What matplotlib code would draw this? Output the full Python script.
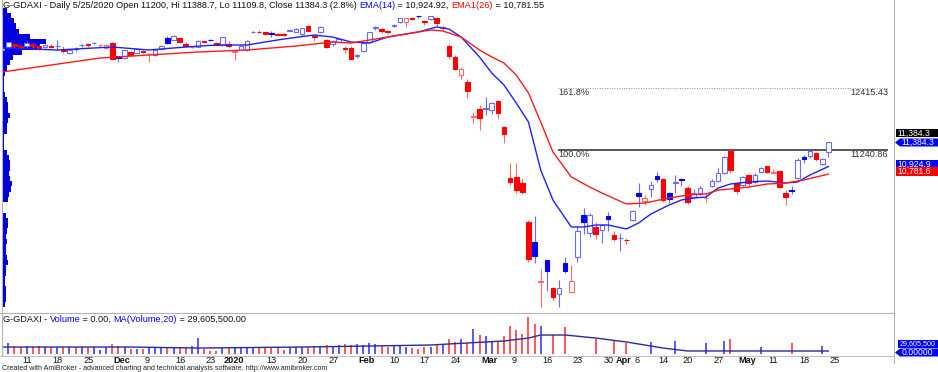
import numpy as np
import pandas as pd
import matplotlib
matplotlib.use("Agg")
import matplotlib.pyplot as plt
from matplotlib.patches import Polygon
from matplotlib.lines import Line2D

FONT = "Liberation Sans"
W, H = 938, 372

# XETRA trading days, Nov 6 2019 .. May 25 2020
holidays = ["2019-12-24", "2019-12-25", "2019-12-26", "2019-12-31", "2020-01-01",
            "2020-04-10", "2020-04-13", "2020-05-01"]
dates = pd.bdate_range("2019-11-06", "2020-05-25")
dates = dates[~dates.isin(pd.to_datetime(holidays))]

opens = [13150, 13210, 13250, 13215, 13215, 13255, 13215, 13200, 13230, 13215,
         13140, 13080, 13170, 13240, 13260, 13280, 13235, 13185, 13278, 13030,
         12995, 13107, 13090, 13126, 13065, 13050, 13170, 13373, 13335, 13373,
         13259, 13200, 13202, 13315, 13340, 13278, 13240, 13250, 13107, 13150,
         13145, 13480, 13490, 13485, 13470, 13445, 13440, 13515, 13490, 13440,
         13600, 13410, 13490, 13335, 13260, 13300, 13185, 13185, 13040, 13120,
         13300, 13560, 13540, 13500, 13600, 13680, 13680, 13750, 13790, 13700,
         13730, 13754, 13560, 13221, 13010, 12670, 12535, 11870, 12020, 12030,
         12002, 12174, 11680, 10700, 10727, 10610, 9870, 9490, 8730, 9146,
         8610, 8499, 9089, 8537, 9200, 10000, 9660, 9780, 9718, 9985,
         9620, 9560, 9535, 9910, 10420, 10270, 10490, 10755, 10690, 10420,
         10610, 10690, 10520, 10340, 10420, 10320, 10560, 10650, 10800, 11220,
         10620, 10570, 10760, 10640, 10830, 10930, 10810, 10840, 10420, 10475,
         10700, 11100, 11130, 11180, 10980, 11200]
highs = [13205, 13300, 13265, 13240, 13310, 13270, 13240, 13250, 13250, 13330,
         13230, 13150, 13200, 13260, 13270, 13300, 13260, 13250, 13300, 13040,
         13150, 13130, 13180, 13150, 13090, 13160, 13240, 13410, 13425, 13390,
         13290, 13230, 13330, 13330, 13360, 13300, 13400, 13320, 13140, 13240,
         13330, 13510, 13525, 13495, 13500, 13470, 13460, 13550, 13560, 13570,
         13620, 13440, 13600, 13350, 13340, 13360, 13230, 13230, 13070, 13300,
         13490, 13600, 13560, 13520, 13640, 13760, 13760, 13770, 13800, 13720,
         13796, 13780, 13600, 13250, 13050, 12830, 12600, 11970, 12100, 12250,
         12160, 12200, 11690, 10990, 11000, 10700, 9900, 9980, 8975, 9150,
         8640, 8760, 9200, 9060, 9790, 10130, 10040, 9870, 9830, 10060,
         9700, 9660, 9560, 10100, 10610, 10380, 10660, 10820, 10700, 10450,
         10770, 10700, 10560, 10500, 10560, 10400, 10680, 10900, 11120, 11241,
         10640, 10750, 10780, 10800, 10920, 10940, 10880, 10850, 10470, 10560,
         11080, 11140, 11230, 11200, 11080, 11388.7]
lows = [13120, 13190, 13190, 13160, 13190, 13180, 13140, 13185, 13180, 13150,
        13090, 13060, 13120, 13200, 13210, 13250, 13210, 13170, 12950, 12920,
        12980, 13040, 13080, 13080, 12920, 13040, 13150, 13260, 13330, 13270,
        13210, 13180, 13195, 13290, 13320, 13240, 13230, 13180, 12950, 13140,
        13120, 13460, 13460, 13430, 13400, 13410, 13410, 13500, 13480, 13420,
        13500, 13320, 13470, 13190, 13230, 13290, 13090, 12970, 12990, 13100,
        13290, 13520, 13470, 13440, 13580, 13660, 13580, 13720, 13760, 13620,
        13720, 13600, 13520, 12980, 12760, 12600, 12230, 11760, 11630, 11900,
        11920, 11840, 11380, 10580, 10430, 10410, 9100, 9080, 8256, 8560,
        8380, 8260, 8900, 8520, 9100, 9640, 9580, 9540, 9470, 9700,
        9510, 9320, 9460, 9890, 10160, 10200, 10350, 10640, 10250, 10240,
        10420, 10560, 10220, 10330, 10380, 10250, 10540, 10630, 10780, 10800,
        10400, 10560, 10560, 10620, 10820, 10800, 10780, 10520, 10190, 10400,
        10690, 10990, 11090, 11030, 10960, 11109.8]
closes = [13180, 13289, 13229, 13198, 13284, 13230, 13180, 13242, 13207, 13221,
          13127, 13138, 13164, 13247, 13236, 13287, 13246, 13236, 12965, 12989,
          13141, 13055, 13167, 13106, 13071, 13141, 13222, 13283, 13408, 13288,
          13222, 13212, 13319, 13301, 13337, 13249, 13386, 13219, 13127, 13227,
          13320, 13495, 13483, 13452, 13456, 13432, 13429, 13526, 13549, 13556,
          13516, 13388, 13577, 13205, 13324, 13345, 13157, 12982, 13045, 13282,
          13479, 13575, 13514, 13494, 13628, 13750, 13745, 13744, 13784, 13681,
          13789, 13664, 13579, 13035, 12790, 12775, 12367, 11890, 11858, 12040,
          12128, 11945, 11542, 10625, 10475, 10439, 9161, 9232, 8742, 8939,
          8442, 8610, 8929, 8741, 9701, 9874, 10001, 9633, 9816, 9936,
          9545, 9571, 9526, 10075, 10357, 10333, 10565, 10697, 10280, 10302,
          10626, 10676, 10250, 10415, 10514, 10336, 10660, 10796, 11108, 10862,
          10467, 10729, 10606, 10759, 10904, 10825, 10820, 10542, 10337, 10465,
          11059, 11075, 11224, 11066, 11074, 11384.3]
# volume in millions
volume = [106, 112, 79, 73, 79, 73, 79, 73, 73, 73,
          73, 73, 73, 73, 66, 73, 40, 73, 96, 82,
          66, 50, 46, 46, 63, 73, 73, 73, 73, 73,
          73, 79, 162, 46, 30, 30, 63, 63, 73, 73,
          73, 73, 73, 73, 73, 73, 40, 66, 73, 66,
          73, 79, 79, 89, 73, 89, 96, 89, 96, 89,
          106, 99, 82, 73, 89, 82, 73, 56, 50, 73,
          73, 99, 89, 148, 116, 145, 110, 248, 188, 178,
          132, 132, 178, 280, 238, 198, 363, 297, 277, 0,
          188, 0, 270, 0, 0, 0, 0, 145, 0, 0,
          132, 0, 106, 0, 0, 0, 122, 0, 0, 0,
          132, 0, 0, 0, 0, 106, 0, 0, 132, 145,
          0, 0, 0, 0, 73, 0, 0, 0, 0, 106,
          0, 0, 0, 0, 79, 0]

# indicator lines (bar index, value)
ema14_bar = [0, 9, 18, 24, 30, 35, 40, 46, 51, 54, 57, 60, 63, 68, 71, 73, 75, 78, 80,
             82, 84, 86, 88, 90, 93, 95, 97, 99, 102, 104, 106, 109, 111, 113, 115,
             117, 119, 122, 125, 128, 130, 132, 135]
ema14_val = [13183, 13145, 13202, 13145, 13202, 13240, 13240, 13354, 13430, 13392,
             13297, 13278, 13392, 13488, 13583, 13545, 13392, 13012, 12707, 12478,
             12136, 11774, 10860, 10289, 9775, 9775, 9813, 9813, 9737, 9851,
             10022, 10194, 10289, 10327, 10346, 10517, 10593, 10632, 10651, 10613,
             10632, 10765, 10924.92]
ema26_bar = [0, 8, 16, 24, 32, 40, 48, 54, 57, 60, 65, 70, 72, 75, 78, 80, 82, 84, 86,
             88, 90, 93, 96, 98, 102, 105, 109, 112, 115, 117, 119, 122, 125, 128, 131, 135]
ema26_val = [12726, 12859, 12992, 13050, 13107, 13145, 13221, 13297, 13278, 13335,
             13430, 13526, 13507, 13392, 13145, 13012, 12897, 12669, 12326, 11774,
             11203, 10727, 10536, 10422, 10213, 10232, 10327, 10384, 10403, 10479,
             10498, 10536, 10593, 10613, 10670, 10781.55]
vma_bar = [0, 21, 32, 49, 60, 70, 76, 82, 86, 88, 92, 97, 102, 108, 112, 135]
vma_val = [69, 69, 59, 69, 79, 89, 109, 129, 158, 188, 188, 158, 119, 59, 30, 29.6]

# volume-at-price histogram (bin centre, relative size)
prof_price = list(range(8300, 14000, 100))
prof_size = [3, 4, 4, 4, 3, 3, 4, 4, 6, 5, 4, 4, 5, 4, 5, 6, 6, 4, 1, 1,
             6, 7, 9, 10, 8, 7, 8, 8, 7, 5, 2, 2, 2, 5, 5, 6, 8, 6, 6, 5,
             3, 2, 2, 2, 3, 5, 8, 11, 20, 38, 44, 28, 17, 14, 12, 9, 5]

fib_100, fib_1618 = 11240.86, 12415.43

ticks = [(3, "11", False), (8, "18", False), (13, "25", False), (18, "Dec", True),
         (23, "9", False), (28, "16", False), (33, "23", False), (36, "2020", True),
         (43, "13", False), (48, "20", False), (53, "27", False), (58, "Feb", True),
         (63, "10", False), (68, "17", False), (73, "24", False), (78, "Mar", True),
         (83, "9", False), (88, "16", False), (93, "23", False), (98, "30", False),
         (100, "Apr", True), (103, "6", False), (107, "14", False), (111, "20", False),
         (116, "27", False), (120, "May", True), (125, "11", False), (130, "18", False),
         (135, "25", False)]

BLUE, RED = "#0000ff", "#ff0000"
BLUE_L, RED_L = "#6a6aff", "#ff6a6a"
GRAY = "#b4b4b4"

# pixel layout
X0, DX = 2.14, 6.12          # pixel of bar 0, pixels per bar
P_REF, Y_REF, PPX = fib_100, 150.0, 19.04   # price scale
VPX = 9.9                    # million per pixel in volume pane


def fx(x):
    return x / W


def fy(y):
    return 1 - y / H


fig = plt.figure(figsize=(W / 100, H / 100), dpi=100)
ax = fig.add_axes([fx(2), fy(313), (894 - 2) / W, 313 / H])
axv = fig.add_axes([fx(2), fy(355), (894 - 2) / W, (355 - 313) / H])
xl = ((2 - X0) / DX, (894 - X0) / DX)
ax.set_xlim(*xl)
ax.set_ylim(P_REF - (313 - Y_REF) * PPX, P_REF + Y_REF * PPX)
axv.set_xlim(*xl)
axv.set_ylim(-VPX, (354 - 313) * VPX)
ax.set_axis_off()
axv.set_axis_off()

o, hi, lo, c = map(np.array, (opens, highs, lows, closes))
x = np.arange(len(c))
prev = np.r_[c[0], c[:-1]]
up = c >= prev
hollow = c > o

# volume at price
ax.barh(prof_price, np.array(prof_size) / DX, height=100, left=xl[0],
        color="#0000e0", lw=0, zorder=1)

# candles
wick = [BLUE_L if u else RED_L for u in up]
ax.vlines(x, lo, hi, colors=wick, lw=0.8, zorder=3)
face = ["white" if hw else (BLUE if u else RED) for hw, u in zip(hollow, up)]
edge = [(BLUE_L if u else RED_L) if hw else (BLUE if u else RED) for hw, u in zip(hollow, up)]
ax.bar(x, np.maximum(np.abs(c - o), 6), bottom=np.minimum(o, c), width=0.75,
       color=face, edgecolor=edge, lw=0.8, zorder=4)

ax.plot(ema14_bar, ema14_val, color="#2020ff", lw=1.0, zorder=5)
ax.plot(ema26_bar, ema26_val, color="#ff1a1a", lw=1.0, zorder=5)

# fibonacci levels
fib_x0, fib_x1 = (558 - X0) / DX, (888 - X0) / DX
ax.hlines(fib_100, fib_x0, fib_x1, color="#555555", lw=1.4, zorder=2)
ax.hlines(fib_1618, fib_x0, fib_x1, color="#909090", lw=0.7, ls=(0, (1, 1.5)), zorder=2)
for lvl, name in [(fib_100, "100.0%"), (fib_1618, "161.8%")]:
    ypx = Y_REF - (lvl - P_REF) / PPX
    fig.text(fx(558), fy(ypx + 4.5), name, fontsize=6.6, family=FONT, color="#333333",
             va="center", ha="left")
    fig.text(fx(888), fy(ypx + 4.5), f"{lvl:.2f}", fontsize=6.6, family=FONT,
             color="#333333", va="center", ha="right")

# volume pane
vcol = ["#4a4aff" if hw else "#ff4a4a" for hw in hollow]
axv.vlines(x, 0, volume, colors=vcol, lw=1.3, zorder=3)
axv.plot(vma_bar, vma_val, color="#2a2a9c", lw=1.0, zorder=4)

# frames
fig.add_artist(Line2D([fx(1.5), fx(1.5)], [fy(0), fy(356)], color=GRAY, lw=0.8))
fig.add_artist(Line2D([fx(894), fx(894)], [fy(0), fy(363)], color=GRAY, lw=0.8))
fig.add_artist(Line2D([fx(0), fx(894)], [fy(313), fy(313)], color=GRAY, lw=0.8))
fig.add_artist(Line2D([fx(0), fx(894)], [fy(355.5), fy(355.5)], color=GRAY, lw=0.6))

# date axis
for i, lab, bold in ticks:
    xp = X0 + DX * i
    fig.text(fx(xp + 1.5), fy(360.5), lab, fontsize=6.6, family=FONT, va="center",
             ha="left", weight="bold" if bold else "normal", color="#111111")

renderer = fig.canvas.get_renderer()


def rich(xp, yp, parts, size):
    for s, col in parts:
        t = fig.text(fx(xp), fy(yp), s, color=col, fontsize=size, family=FONT,
                     va="center", ha="left")
        xp += t.get_window_extent(renderer=renderer).width


rich(3, 5.5, [("G-GDAXI - Daily 5/25/2020 Open 11200, Hi 11388.7, Lo 11109.8, "
               "Close 11384.3 (2.8%) ", "#111111"),
              ("EMA(14)", BLUE), (" = 10,924.92, ", "#111111"),
              ("EMA1(26)", RED), (" = 10,781.55", "#111111")], 6.6)
rich(3, 319, [("G-GDAXI - ", "#111111"), ("Volume", BLUE), (" = 0.00, ", "#111111"),
              ("MA(Volume,20)", BLUE), (" = 29,605,500.00", "#111111")], 6.6)
fig.text(fx(2), fy(369), "Created with AmiBroker - advanced charting and technical "
         "analysis software. http://www.amibroker.com", fontsize=5.15, family=FONT,
         color="#222222", va="center", ha="left")


def value_box(yc, text, color, left=896, arrow=False, hh=4.0, size=6.2):
    if arrow:
        pts = [(left - 5, yc), (left, yc - hh), (W, yc - hh), (W, yc + hh), (left, yc + hh)]
    else:
        pts = [(left, yc - hh), (W, yc - hh), (W, yc + hh), (left, yc + hh)]
    fig.add_artist(Polygon([(fx(a), fy(b)) for a, b in pts], closed=True,
                           facecolor=color, edgecolor="none"))
    fig.text(fx(left + 1.5), fy(yc), text, fontsize=size, family=FONT, color="white",
             va="center", ha="left")


value_box(133, "11,384.3", "#000000")
value_box(142.5, "11,384.3", BLUE, left=900, arrow=True)
value_box(164, "10,924.9", BLUE)
value_box(171.5, "10,781.6", RED)
value_box(344, "29,605,500", BLUE, left=898, size=5.1)
value_box(352.5, "0.00000", BLUE, left=900, arrow=True)

fig.savefig("out.png", dpi=100)
